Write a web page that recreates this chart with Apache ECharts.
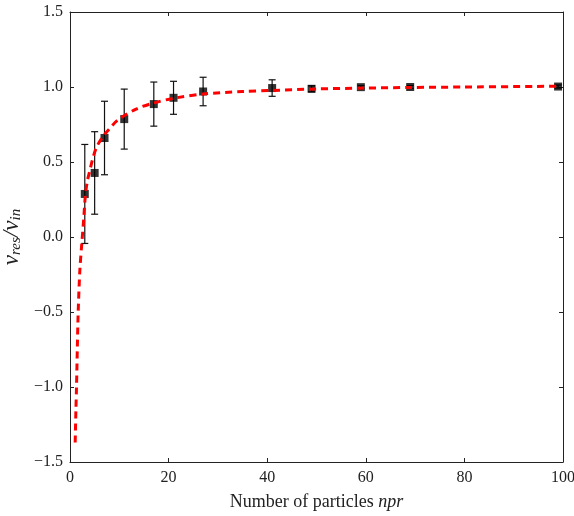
<!DOCTYPE html>
<html>
<head>
<meta charset="utf-8">
<script src="https://cdn.jsdelivr.net/npm/echarts@6/dist/echarts.min.js"></script>
<style>
html,body{margin:0;padding:0;background:#fff;}
#chart{width:574px;height:516px;}
</style>
</head>
<body>
<div id="chart"></div>
<script>
// Measured points
var npr = [3, 5, 7, 11, 17, 21, 27, 41, 49, 59, 69, 99];
var vRatio = [0.287, 0.427, 0.66, 0.786, 0.886, 0.928, 0.97, 0.993, 0.988, 0.999, 1.0, 1.003];
var vErr = [0.33, 0.275, 0.245, 0.2, 0.147, 0.11, 0.095, 0.055, 0.02, 0.01, 0.01, 0.01];
// Fit curve
var fitX = [1.05, 1.2, 1.32, 1.5, 1.66, 2.0, 2.4, 2.8, 3.1, 3.5, 4.0, 4.6, 5.4, 6.7, 7.7, 9.7, 13.4, 16.9, 21.2, 27, 35, 41, 50, 60, 69, 80, 99.3];
var fitY = [-1.37, -1.15, -1.0, -0.72, -0.5, -0.22, -0.04, 0.13, 0.27, 0.37, 0.44, 0.52, 0.60, 0.67, 0.71, 0.78, 0.853, 0.893, 0.926, 0.953, 0.97, 0.977, 0.987, 0.993, 0.997, 1.0, 1.005];
// Ticks
var xTicks = [0, 20, 40, 60, 80, 100];
var yTicks = [-1.5, -1.0, -0.5, 0.0, 0.5, 1.0, 1.5];

var FONT = 'Liberation Serif';
var pts = npr.map(function (x, i) { return [x, vRatio[i]]; });
var errData = npr.map(function (x, i) { return [x, vRatio[i] - vErr[i], vRatio[i] + vErr[i]]; });
var fit = fitX.map(function (x, i) { return [x, fitY[i]]; });

function fmtY(v) {
  var s = Math.abs(v).toFixed(1);
  return (v < 0 ? '\u2212' : '') + s;
}

var axisLine = { show: true, onZero: false, lineStyle: { color: '#222', width: 1 } };
var tick = { show: true, inside: true, length: 4, lineStyle: { color: '#222' } };
var chart = echarts.init(document.getElementById('chart'), null, { renderer: 'canvas' });
chart.setOption({
  animation: false,
  backgroundColor: '#fff',
  grid: { left: 70, right: 11, top: 12, bottom: 54, containLabel: false, outerBoundsMode: 'none' },
  xAxis: [{
    type: 'value', min: xTicks[0], max: xTicks[xTicks.length - 1], interval: 20, position: 'bottom',
    axisLine: axisLine,
    axisTick: tick,
    axisLabel: { color: '#222', fontFamily: FONT, fontSize: 16, margin: 8 },
    splitLine: { show: false },
    name: '{a|Number of particles }{b|npr}',
    nameLocation: 'middle', nameGap: 31,
    nameTextStyle: {
      rich: {
        a: { fontFamily: FONT, fontSize: 18, color: '#222' },
        b: { fontFamily: FONT, fontSize: 18, fontStyle: 'italic', color: '#222' }
      }
    }
  }, {
    type: 'value', min: xTicks[0], max: xTicks[xTicks.length - 1], interval: 20, position: 'top',
    axisLine: axisLine,
    axisTick: tick,
    axisLabel: { show: false }, splitLine: { show: false }
  }],
  yAxis: [{
    type: 'value', min: yTicks[0], max: yTicks[yTicks.length - 1], interval: 0.5, position: 'left',
    axisLine: axisLine,
    axisTick: tick,
    axisLabel: { color: '#222', fontFamily: FONT, fontSize: 16, margin: 7, formatter: fmtY },
    splitLine: { show: false },
    name: '{i|v}{s|res}{i|/v}{s|in}',
    nameLocation: 'middle', nameGap: 42, nameRotate: 90,
    nameTextStyle: {
      rich: {
        i: { fontFamily: FONT, fontSize: 23, fontStyle: 'italic', color: '#222', verticalAlign: 'bottom', lineHeight: 26 },
        s: { fontFamily: FONT, fontSize: 15, fontStyle: 'italic', color: '#222', verticalAlign: 'bottom', lineHeight: 18 }
      }
    }
  }, {
    type: 'value', min: yTicks[0], max: yTicks[yTicks.length - 1], interval: 0.5, position: 'right',
    axisLine: axisLine,
    axisTick: tick,
    axisLabel: { show: false }, splitLine: { show: false }
  }],
  series: [{
    type: 'custom',
    xAxisIndex: 0, yAxisIndex: 0,
    z: 2,
    data: errData,
    renderItem: function (params, api) {
      var x = api.value(0);
      var lo = api.coord([x, api.value(1)]);
      var hi = api.coord([x, api.value(2)]);
      var cw = 3.5;
      var st = { stroke: '#111', lineWidth: 1.2 };
      return {
        type: 'group',
        children: [
          { type: 'line', shape: { x1: lo[0], y1: lo[1], x2: hi[0], y2: hi[1] }, style: st },
          { type: 'line', shape: { x1: lo[0] - cw, y1: lo[1], x2: lo[0] + cw, y2: lo[1] }, style: st },
          { type: 'line', shape: { x1: hi[0] - cw, y1: hi[1], x2: hi[0] + cw, y2: hi[1] }, style: st }
        ]
      };
    }
  }, {
    type: 'scatter',
    xAxisIndex: 0, yAxisIndex: 0,
    z: 3,
    symbol: 'rect', symbolSize: 8,
    itemStyle: { color: '#000' },
    data: pts
  }, {
    type: 'line',
    xAxisIndex: 0, yAxisIndex: 0,
    z: 4,
    smooth: 0.3,
    showSymbol: false, symbol: 'none',
    lineStyle: { color: '#ff0000', width: 3, type: [7, 5] },
    data: fit
  }]
});
</script>
</body>
</html>
